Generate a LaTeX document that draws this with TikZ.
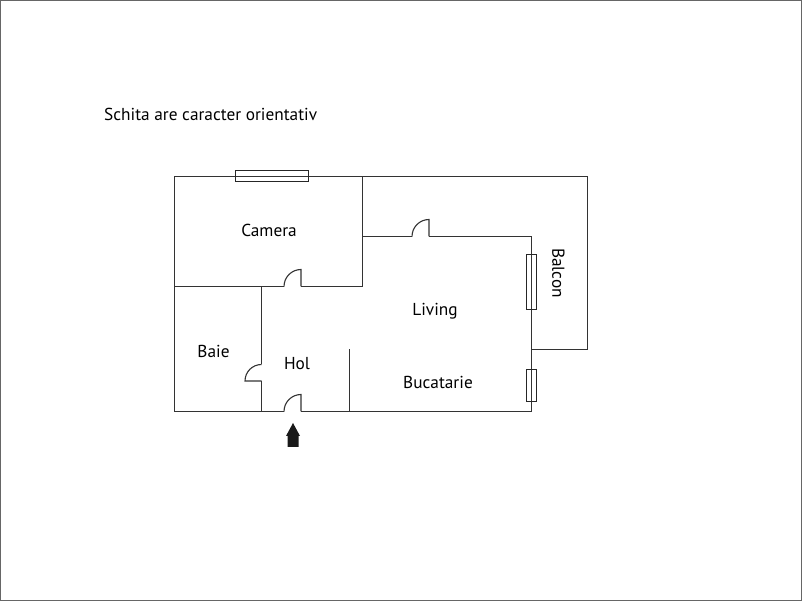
\documentclass[tikz,border=0pt]{standalone}
\usepackage{fontspec}
\setmainfont{PT Sans}
\usetikzlibrary{calc}

\tikzset{
	wall/.style={line width=1.1pt, black!80},
	glass/.style={line width=0.9pt, black!85, fill=white},
	roomlabel/.style={font=\fontsize{17.3}{20}\selectfont, inner sep=0pt, text=black},
}

\begin{document}
\begin{tikzpicture}[x=1pt, y=1pt]
	\useasboundingbox (0,0) rectangle (802,602);
	\draw [black!60, line width=1pt] (0.5,1.5) rectangle (801.5,601.5);

	\begin{scope}[wall]
		% outer walls
		\draw (284,190.5) -- (174.5,190.5) -- (174.5,425.5) -- (587.5,425.5) -- (587.5,252.5) -- (531.5,252.5);
		\draw (301,190.5) -- (531.5,190.5) -- (531.5,365.5) -- (429,365.5);
		\draw (412,365.5) -- (362.5,365.5);
		\draw (362.5,425.5) -- (362.5,315.5) -- (301,315.5);
		\draw (284,315.5) -- (174.5,315.5);

		% inner walls
		\draw (261.5,315.5) -- (261.5,237.5);
		\draw (261.5,220.5) -- (261.5,190.5);
		\draw (349.5,252.5) -- (349.5,190.5);
	\end{scope}

	\begin{scope}[wall]
		% doors
		\draw (284,315.5) arc (180:90:17) -- (301,315.5);
		\draw (412,365.5) arc (180:90:17) -- (429,365.5);
		\draw (284,190.5) arc (180:90:17) -- (301,190.5);
		\draw (261.5,237.5) arc (90:180:16.5) -- (261.5,221);
	\end{scope}

	\begin{scope}[glass]
		% windows
		\draw (235.5,420.5) rectangle (308,431.5);
		\draw (526.5,293) rectangle (536.5,347.5);
		\draw (526.5,201) rectangle (536.5,233);
	\end{scope}

	% entrance
	\fill [black!90] (293,179) -- (300,166) -- (298.5,166) -- (298.5,155) -- (287.5,155) -- (287.5,166) -- (286,166) -- cycle;

	\node [roomlabel, anchor=base west] (note) at (104,481.5) {Schita are caracter orientativ};
	\node [roomlabel] (camera) at (269,372) {Camera};
	\node [roomlabel] (living) at (435,291) {Living};
	\node [roomlabel] (baie) at (213.5,251) {Baie};
	\node [roomlabel] (hol) at (297,238) {Hol};
	\node [roomlabel] (bucatarie) at (438,220) {Bucatarie};
	\node [roomlabel, rotate=-90] (balcon) at (558.5,329) {Balcon};
\end{tikzpicture}
\end{document}
